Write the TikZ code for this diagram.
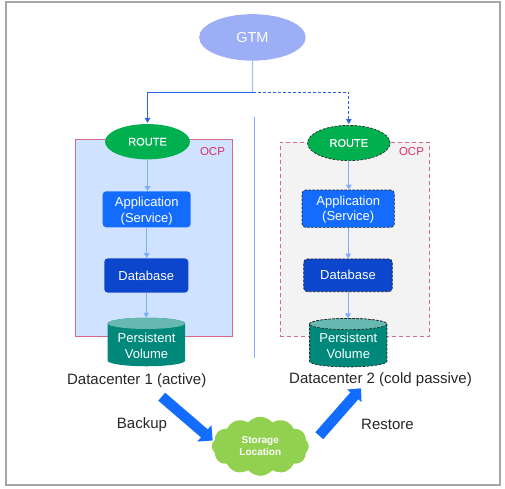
\documentclass[tikz,border=0pt]{standalone}
\usepackage{fontspec}
\setmainfont{Liberation Sans}
\newfontfamily\medfont[RawFeature={embolden=0.5}]{Liberation Sans}
\usetikzlibrary{shapes.geometric,shapes.symbols,arrows.meta}
\definecolor{gtmc}{HTML}{9CAEF5}
\definecolor{linec}{HTML}{7FAEFF}
\definecolor{stemc}{HTML}{A9BFF8}
\definecolor{deepb}{HTML}{2A62EC}
\definecolor{appc}{HTML}{146CFF}
\definecolor{dbc}{HTML}{0B46CC}
\definecolor{routec}{HTML}{00B04F}
\definecolor{pvc}{HTML}{00897B}
\definecolor{pvtop}{HTML}{66B8B0}
\definecolor{ocpc}{HTML}{D9688F}
\definecolor{ocpt}{HTML}{D6336C}
\definecolor{leftbg}{HTML}{CFE2FF}
\definecolor{rightbg}{HTML}{F3F3F3}
\definecolor{cloudc}{HTML}{92D050}
\definecolor{framec}{HTML}{A6A6A6}
\tikzset{
  wlab/.style={text=white,align=center,font=\fontsize{13}{15.7}\selectfont,inner sep=0pt},
  gtmnode/.style={ellipse,fill=gtmc,minimum width=106.5pt,minimum height=46.5pt,inner sep=0pt,text=white,font=\fontsize{14.5}{16}\selectfont},
  routenode/.style={ellipse,fill=routec,minimum height=35.3pt,inner sep=0pt,text=white,font=\medfont\fontsize{11}{12}\selectfont},
  appbox/.style={rectangle,rounded corners=3.5pt,fill=appc,inner sep=0pt,wlab},
  dbbox/.style={rectangle,rounded corners=3.5pt,fill=dbc,inner sep=0pt,wlab},
  pass/.style={draw=black!85,dashed,dash pattern=on 2.4pt off 1.6pt,line width=0.7pt},
  flow/.style={draw=linec,line width=1pt,-{Triangle[length=5pt,width=5.5pt]}},
  cylbox/.style={rectangle,minimum width=77.5pt,minimum height=48.5pt,inner sep=0pt,outer sep=0pt},
  bigarrow/.style={draw=appc,line width=10.5pt,-{Triangle[length=11pt,width=21pt]}},
  plain/.style={font=\fontsize{15}{17}\selectfont,text=black!85,inner sep=0pt},
  ocptext/.style={text=ocpt,font=\fontsize{11.5}{13}\selectfont,inner sep=0pt},
}
% body and lid of a cylinder, fitted on a named box
\newcommand{\pvdrum}[2]{%
  \path[fill=pvc,#2] ([yshift=-5.6pt]#1.north west) -- ([yshift=5.6pt]#1.south west)
    arc[start angle=180,end angle=360,x radius=38.75pt,y radius=5.6pt]
    -- ([yshift=-5.6pt]#1.north east)
    arc[start angle=0,end angle=-180,x radius=38.75pt,y radius=-5.6pt] -- cycle;
  \path[fill=pvtop,#2] ([yshift=-5.6pt]#1.north west)
    arc[start angle=180,end angle=-180,x radius=38.75pt,y radius=5.6pt] -- cycle;
}
\begin{document}
\begin{tikzpicture}[x=1pt,y=-1pt]
\useasboundingbox (0,0) rectangle (505,488);
\fill[white] (0,0) rectangle (505,488);
\draw[framec,line width=1.3pt] (6,2) rectangle (500,485);
% containers
\node[draw=ocpc,fill=leftbg,line width=0.8pt,minimum width=156.4pt,minimum height=196.7pt,inner sep=0pt,anchor=north west] (ocpa) at (75.3,139.3) {};
\node[draw=ocpc,fill=rightbg,line width=0.8pt,dashed,dash pattern=on 4pt off 3pt,minimum width=149.3pt,minimum height=194.3pt,inner sep=0pt,anchor=north west] (ocpb) at (280,141.7) {};
\node[ocptext] (ocpla) at (212.5,151.5) {OCP};
\node[ocptext] (ocplb) at (411.5,151.5) {OCP};
% divider
\coordinate (divt) at (254.4,116.7);
\coordinate (divb) at (254.4,358.3);
\draw[linec,line width=0.7pt] (divt) -- (divb);
% nodes
\node[gtmnode] (gtm) at (252.4,37.4) {GTM};
\node[routenode,minimum width=85pt] (r1) at (147.5,141.7) {ROUTE};
\node[routenode,pass,minimum width=82.5pt] (r2) at (348.8,143) {ROUTE};
\node[appbox,minimum width=88pt,minimum height=36pt] (a1) at (146.7,209.3) {\rule{0pt}{12.4pt}Application\\(Service)};
\node[appbox,pass,minimum width=92.3pt,minimum height=37.3pt] (a2) at (348.2,208.7) {\rule{0pt}{11.4pt}Application\\(Service)};
\node[dbbox,minimum width=84pt,minimum height=34.3pt] (d1) at (146.3,275.5) {Database};
\node[dbbox,pass,minimum width=88.6pt,minimum height=32.7pt] (d2) at (348,275.3) {Database};
\node[cylbox] (p1) at (146.4,342) {};
\node[cylbox] (p2) at (348.2,342.7) {};
\pvdrum{p1}{}
\pvdrum{p2}{pass}
\node[wlab] (p1t) at (146.5,345.5) {Persistent\\Volume};
\node[wlab] (p2t) at (348.3,345.5) {Persistent\\Volume};
\node[plain] (dc1) at (136.7,380.3) {Datacenter 1 (active)};
\node[plain] (dc2) at (380.5,379.7) {Datacenter 2 (cold passive)};
\node[plain] (bk) at (142,425) {Backup};
\node[plain] (rs) at (387.5,424) {Restore};
\node[cloud,cloud puffs=12,cloud puff arc=100,aspect=1.6,fill=cloudc,minimum width=97pt,minimum height=59pt,inner sep=0pt,text=white,align=center,font=\fontsize{10}{12.4}\selectfont\bfseries] (st) at (260.3,446.3) {Storage\\Location};
% connectors
\coordinate (j) at (252.5,92.3);
\draw[stemc,line width=1.3pt] (gtm.south) -- (j);
\draw[draw=deepb,line width=0.9pt,shorten >=1pt,-{Triangle[length=5pt,width=5.5pt]}] (j) -| (r1.north);
\draw[draw=deepb,line width=0.9pt,dashed,dash pattern=on 3pt off 2pt,shorten >=1pt,-{Triangle[length=5pt,width=5.5pt]}] (j) -| (r2.north);
\draw[flow] (r1.south) -- (r1.south |- a1.north);
\draw[flow] (a1.south) -- (a1.south |- d1.north);
\draw[flow] (d1.south) -- (d1.south |- p1.north);
\draw[flow] (r2.south) -- (r2.south |- a2.north);
\draw[flow] (a2.south) -- (a2.south |- d2.north);
\draw[flow] (d2.south) -- (d2.south |- p2.north);
\coordinate (bka) at (161.7,396.7);
\coordinate (bkb) at (212.7,440.5);
\coordinate (rsa) at (319.3,435.7);
\coordinate (rsb) at (361,388.3);
\draw[bigarrow] (bka) -- (bkb);
\draw[bigarrow,-{Triangle[length=10pt,width=18.5pt]}] (rsa) -- (rsb);
\end{tikzpicture}
\end{document}
